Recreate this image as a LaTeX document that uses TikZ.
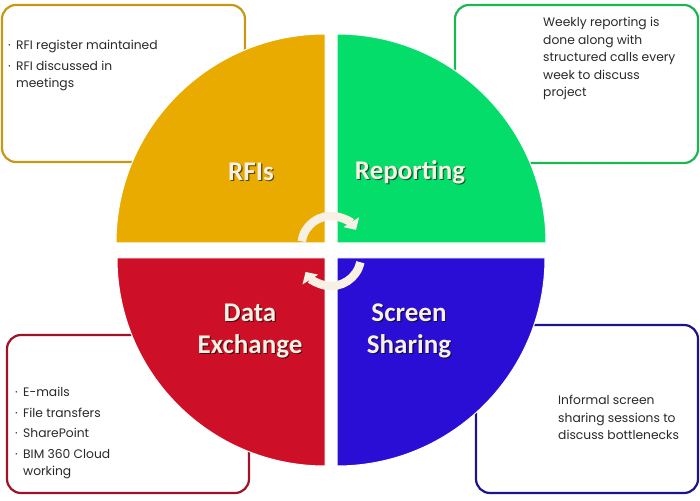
\documentclass[tikz,border=0pt]{standalone}
\usepackage{fontspec}
\setmainfont{Poppins}
\newfontfamily\labelfont{Carlito}
\usetikzlibrary{arrows.meta,calc}
\definecolor{rfiyellow}{RGB}{233,171,0}
\definecolor{repgreen}{RGB}{4,221,106}
\definecolor{datared}{RGB}{205,16,40}
\definecolor{scrblue}{RGB}{42,14,214}
\definecolor{rfiline}{RGB}{200,152,20}
\definecolor{repline}{RGB}{30,182,84}
\definecolor{dataline}{RGB}{160,18,40}
\definecolor{scrline}{RGB}{28,20,140}
\definecolor{cream}{RGB}{248,240,226}
\definecolor{txtgray}{RGB}{40,40,40}
\newcommand{\bl}{\makebox[8pt][l]{\textperiodcentered}}
\newcommand{\ind}{\hspace*{8pt}}
\tikzset{
	infobox/.style={line width=2.2pt,rounded corners=14pt},
	infotext/.style={anchor=north west,inner sep=0pt,align=left,text=txtgray,font=\fontsize{12.3}{17.5}\selectfont},
	qlabel/.style={text=cream,align=center,font=\labelfont\bfseries\fontsize{27}{32}\selectfont},
	qshadow/.style={qlabel,text=black,opacity=.6},
	cyclearrow/.style={draw=cream,line width=8.5pt,line cap=butt,-{Triangle[width=18pt,length=9pt]}}
}
\begin{document}
\begin{tikzpicture}[x=1pt,y=1pt,line join=round]
	\useasboundingbox (0,0) rectangle (700,500);
	% boxes
	\draw[infobox,rfiline] (2,338) rectangle (245,495);
	\draw[infobox,repline] (455,337) rectangle (698,495);
	\draw[infobox,dataline] (7,7) rectangle (249,165);
	\draw[infobox,scrline] (476,7) rectangle (698,175);
	% quadrants
	\coordinate (Y) at (325,257);
	\coordinate (G) at (337,257);
	\coordinate (R) at (325,242);
	\coordinate (B) at (337,242);
	\fill[rfiyellow,draw=white,line width=1pt] (Y)--++(-209,0) arc (180:90:209)--cycle;
	\fill[repgreen,draw=white,line width=1pt] (G)--++(0,209) arc (90:0:209)--cycle;
	\fill[datared,draw=white,line width=1pt] (R)--++(-208,0) arc (180:270:208)--cycle;
	\fill[scrblue,draw=white,line width=1pt] (B)--++(208,0) arc (0:-90:208)--cycle;
	% cycle arrows
	\coordinate (T) at (331,254.5);
	\coordinate (D) at (331,244);
	\draw[cyclearrow] ($(T)+(172:29.5)$) arc (172:32:29.5);
	\draw[cyclearrow] ($(D)+(-12:30)$) arc (-12:-148:30);
	% labels
	\node[qshadow] (rfis) at (252.2,326.8) {RFIs};
	\node[qlabel] (rfi) at (251,328) {RFIs};
	\node[qshadow] (reps) at (411.2,326.8) {Reporting};
	\node[qlabel] (rep) at (410,328) {Reporting};
	\node[qshadow] (datas) at (251.2,167.8) {Data\\Exchange};
	\node[qlabel] (data) at (250,169) {Data\\Exchange};
	\node[qshadow] (scrs) at (410.2,167.8) {Screen\\Sharing};
	\node[qlabel] (scr) at (409,169) {Screen\\Sharing};
	% texts
	\node[infotext] (rfitxt) at (8,460) {\bl RFI register maintained\\[3pt]\bl RFI discussed in\\\ind meetings};
	\node[infotext] (reptxt) at (543,483) {Weekly reporting is\\done along with\\structured calls every\\week to discuss\\project};
	\node[infotext] (datatxt) at (15,113) {\bl E-mails\\[3pt]\bl File transfers\\[3pt]\bl SharePoint\\[3pt]\bl BIM 360 Cloud\\\ind working};
	\node[infotext] (scrtxt) at (558,105) {Informal screen\\sharing sessions to\\discuss bottlenecks};
\end{tikzpicture}
\end{document}
